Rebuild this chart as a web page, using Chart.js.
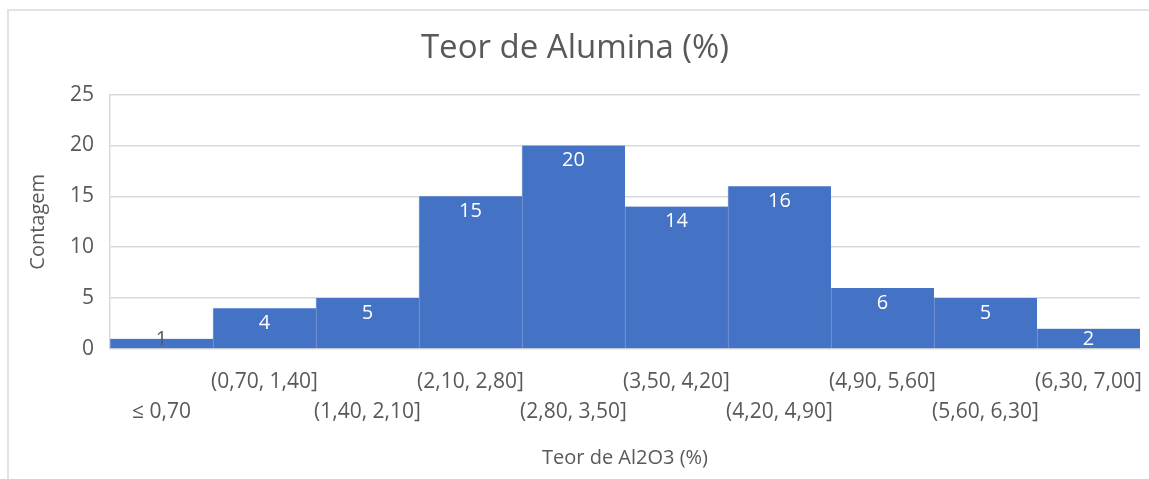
<!DOCTYPE html>
<html>
<head>
<meta charset="utf-8">
<script src="https://cdn.jsdelivr.net/npm/chart.js@4/dist/chart.umd.min.js"></script>
<style>
  html, body { margin: 0; padding: 0; background: #fff; overflow: hidden; }
  #frame { position: absolute; left: 7px; top: 9px; width: 1300px; height: 600px; border-left: 2px solid #e3e3e3; border-top: 2px solid #e3e3e3; }
  #c { position: absolute; left: 0; top: 0; }
</style>
</head>
<body>
<div id="frame"></div>
<canvas id="c" width="1149" height="479" style="width:1149px;height:479px"></canvas>
<script>
const categories = ['≤ 0,70', '(0,70, 1,40]', '(1,40, 2,10]', '(2,10, 2,80]', '(2,80, 3,50]',
                    '(3,50, 4,20]', '(4,20, 4,90]', '(4,90, 5,60]', '(5,60, 6,30]', '(6,30, 7,00]'];
const counts = [1, 4, 5, 15, 20, 14, 16, 6, 5, 2];
const yTicks = [0, 5, 10, 15, 20, 25];

const FONT = '"Open Sans", "Noto Sans", sans-serif';
const TEXT = '#595959';

// Staggered labels: even index on the lower row, odd index on the upper row
const staggered = categories.map((c, i) => (i % 2 === 0 ? ['', c] : [c, '']));

const labelPlugin = {
  id: 'barLabels',
  afterDatasetsDraw(chart) {
    const ctx = chart.ctx;
    const meta = chart.getDatasetMeta(0);
    ctx.save();
    ctx.font = '20px ' + FONT;
    ctx.textAlign = 'center';
    ctx.textBaseline = 'middle';
    meta.data.forEach((bar, i) => {
      const h = bar.base - bar.y;
      let y = Math.min(bar.y + 15, bar.base - 9);
      ctx.fillStyle = h < 16 ? TEXT : '#ffffff';
      ctx.fillText(String(counts[i]), bar.x, y);
    });
    ctx.restore();
  }
};

new Chart(document.getElementById('c'), {
  type: 'bar',
  data: {
    labels: staggered,
    datasets: [{
      data: counts,
      backgroundColor: '#4472C4',
      borderColor: '#7e9cd6',
      borderWidth: { left: 1, right: 0, top: 0, bottom: 0 },
      borderSkipped: false,
      barPercentage: 1,
      categoryPercentage: 1
    }]
  },
  options: {
    responsive: false,
    animation: false,
    devicePixelRatio: 1,
    layout: { padding: { left: 10, right: 9, top: 0, bottom: 6 } },
    plugins: {
      legend: { display: false },
      tooltip: { enabled: false },
      title: {
        display: true,
        text: 'Teor de Alumina (%)',
        color: TEXT,
        font: { family: FONT, size: 33, weight: 'normal', lineHeight: 1.2 },
        padding: { top: 29, bottom: 26 }
      }
    },
    scales: {
      x: {
        grid: { display: false, drawTicks: false },
        border: { display: false },
        ticks: {
          color: TEXT,
          font: { family: FONT, size: 21, lineHeight: 1.43 },
          padding: 18,
          maxRotation: 0,
          autoSkip: false
        },
        title: {
          display: true,
          text: 'Teor de Al2O3 (%)',
          color: TEXT,
          font: { family: FONT, size: 20, lineHeight: 1.2 },
          padding: { top: 6, bottom: 3 }
        },
        afterFit(scale) {
          scale.height = 479 - 349 - 6;
          scale.paddingLeft = 0;
          scale.paddingRight = 0;
        }
      },
      y: {
        min: 0,
        max: 25,
        afterBuildTicks(scale) { scale.ticks = yTicks.map(v => ({ value: v })); },
        grid: { color: '#d9d9d9', lineWidth: 1.5, drawTicks: false },
        border: { display: true, color: '#d9d9d9', width: 1.5 },
        ticks: {
          color: TEXT,
          font: { family: FONT, size: 21 },
          padding: 16
        },
        title: {
          display: true,
          text: 'Contagem',
          color: TEXT,
          font: { family: FONT, size: 20, lineHeight: 1.2 },
          padding: { top: 16, bottom: 0 }
        },
        afterFit(scale) { scale.width = 110 - 10; }
      }
    }
  },
  plugins: [labelPlugin]
});
</script>
</body>
</html>
